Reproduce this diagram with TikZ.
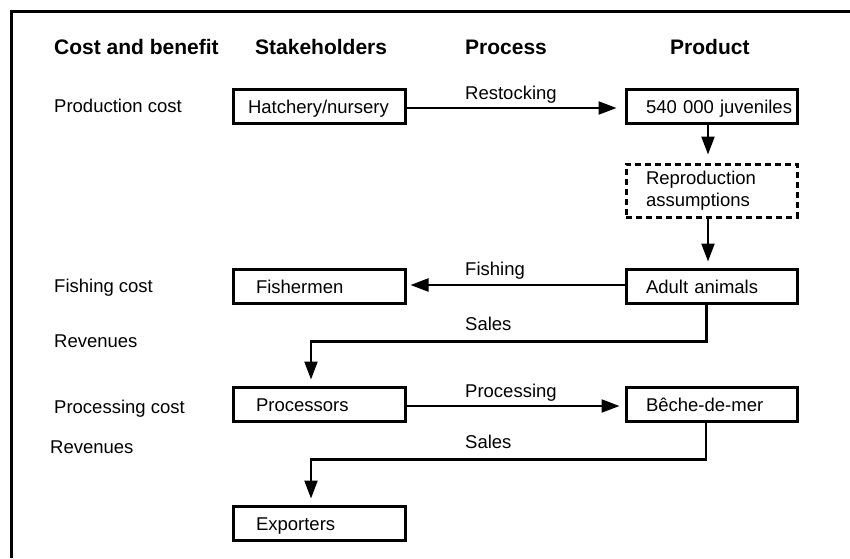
\documentclass[tikz,border=0pt]{standalone}
\usepackage{fontspec}
\setmainfont{Liberation Sans}
\usetikzlibrary{arrows.meta}
\begin{document}
\begin{tikzpicture}[x=1pt,y=-1pt,
  every node/.style={font=\fontsize{18.5}{22}\selectfont, inner sep=0pt},
  hd/.style={font=\fontsize{21}{25}\selectfont\bfseries, anchor=base west},
  lbl/.style={anchor=base west},
  box/.style 2 args={draw, line width=3pt, minimum height=34pt, text height=15pt, text depth=0pt, align=left, inner xsep=0pt, text width=#2, execute at begin node={\hspace*{#1}}},
  lbox/.style={box={23pt}{172pt}},
  rbox/.style={box={20pt}{171pt}},
  dbox/.style={draw, line width=3pt, dash pattern=on 6pt off 4pt, minimum height=53pt, align=left, inner xsep=20pt, text width=131pt},
  conn/.style={line width=2.2pt, -{Triangle[length=18pt,width=13pt]}},
  frame/.style={line width=3pt}]
\useasboundingbox (0,0) rectangle (850,558);
\draw[frame] (850,11) -- (11,11) -- (11,558);

% headers
\node[hd] (h1) at (54,54) {Cost and benefit};
\node[hd] (h2) at (255,54) {Stakeholders};
\node[hd] (h3) at (465,54) {Process};
\node[hd] (h4) at (670,54) {Product};

% left labels
\node[lbl] (l1) at (54,112) {Production cost};
\node[lbl] (l2) at (54,292) {Fishing cost};
\node[lbl] (l3) at (54,347) {Revenues};
\node[lbl] (l4) at (54,413) {Processing cost};
\node[lbl] (l5) at (50,453) {Revenues};

% boxes
\node[box={15pt}{172pt}] (hatch) at (319,106) {Hatchery/nursery};
\node[rbox] (juv) at (711.5,106) {540 000 juveniles};
\node[dbox] (repro) at (711.5,190.5) {Reproduction\\assumptions};
\node[rbox] (adult) at (711.5,286) {Adult animals};
\node[lbox] (fish) at (319,286) {Fishermen};
\node[lbox] (proc) at (319,404) {Processors};
\node[rbox] (beche) at (711.5,404) {Bêche-de-mer};
\node[lbox] (exp) at (319,523) {Exporters};

% process labels
\node[lbl] (p1) at (465,99) {Restocking};
\node[lbl] (p2) at (465,275) {Fishing};
\node[lbl] (p3) at (465,330) {Sales};
\node[lbl] (p4) at (465,397) {Processing};
\node[lbl] (p5) at (465,448) {Sales};

% connectors
\draw[conn, shorten >=8pt] ([yshift=-2pt]hatch.east) -- ([yshift=-2pt]juv.west);
\draw[conn, shorten >=8pt] ([xshift=-3.5pt]juv.south) -- ([xshift=-3.5pt]repro.north);
\draw[conn, shorten >=6pt] ([xshift=-3.5pt]repro.south) -- ([xshift=-3.5pt]adult.north);
\draw[conn, shorten >=4pt] ([yshift=1pt]adult.west) -- ([yshift=1pt]fish.east);
\draw[conn, shorten >=6pt] ([xshift=-5pt]adult.south) -- ++(0,37) -| ([xshift=-8pt]proc.north);
\draw[conn, shorten >=5pt] ([yshift=-2pt]proc.east) -- ([yshift=-2pt]beche.west);
\draw[conn, shorten >=6pt] ([xshift=-5.5pt]beche.south) -- ++(0,37) -| ([xshift=-8pt]exp.north);
\end{tikzpicture}
\end{document}
